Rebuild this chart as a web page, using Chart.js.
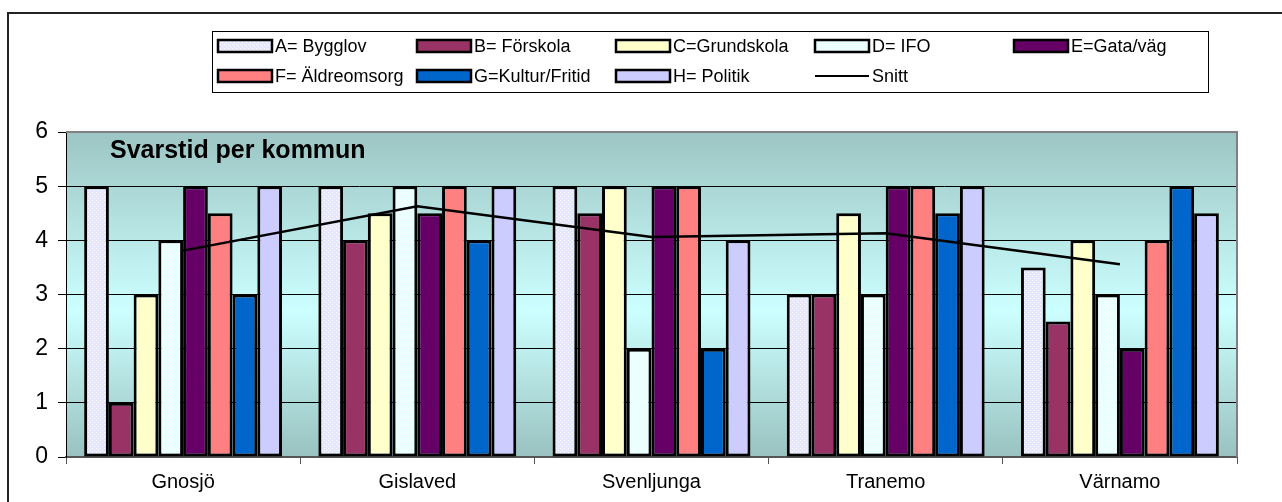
<!DOCTYPE html>
<html>
<head>
<meta charset="utf-8">
<script src="https://cdn.jsdelivr.net/npm/chart.js@4"></script>
<style>
  html, body { margin: 0; padding: 0; background: #fff; }
  #wrap { position: relative; width: 1282px; height: 502px; }
</style>
</head>
<body>
<div id="wrap"><canvas id="grafico" width="1282" height="502"></canvas></div>
<script>
// Kommuner och svarstider
const kommuner = ['Gnosjö', 'Gislaved', 'Svenljunga', 'Tranemo', 'Värnamo'];

const bygglov     = [5, 5, 5, 3, 3.5];
const forskola    = [1, 4, 4.5, 3, 2.5];
const grundskola  = [3, 4.5, 5, 4.5, 4];
const ifo         = [4, 5, 2, 3, 3];
const gataVag     = [5, 4.5, 5, 5, 2];
const aldreomsorg = [4.5, 5, 5, 5, 4];
const kultur      = [3, 4, 2, 4.5, 5];
const politik     = [5, 5, 4, 5, 4.5];
const snitt       = [3.81, 4.63, 4.06, 4.13, 3.56];

const yTicks = [0, 1, 2, 3, 4, 5, 6];

const FONT = "'Liberation Sans', Arial, sans-serif";

// Enkel prickig fyllning (som Excel-mönstret)
function monster(bas, prick) {
    const c = document.createElement('canvas');
    c.width = 4; c.height = 4;
    const g = c.getContext('2d');
    g.fillStyle = bas;
    g.fillRect(0, 0, 4, 4);
    g.fillStyle = prick;
    g.fillRect(0, 0, 1, 1);
    g.fillRect(2, 2, 1, 1);
    return g.createPattern(c, 'repeat');
}

function stapel(label, data, farg) {
    return {
        type: 'bar',
        label: label,
        data: data,
        backgroundColor: farg,
        borderColor: '#000',
        borderWidth: 3,
        borderSkipped: false,
        categoryPercentage: 0.845,
        barPercentage: 1,
        order: 2
    };
}

const datasets = [
    stapel('A= Bygglov', bygglov, monster('#E6E6FF', '#FFFFFF')),
    stapel('B= Förskola', forskola, '#993366'),
    stapel('C=Grundskola', grundskola, '#FFFFCC'),
    stapel('D= IFO', ifo, monster('#E6FFFF', '#FFFFFF')),
    stapel('E=Gata/väg', gataVag, '#660066'),
    stapel('F= Äldreomsorg', aldreomsorg, '#FF8080'),
    stapel('G=Kultur/Fritid', kultur, '#0066CC'),
    stapel('H= Politik', politik, '#CCCCFF'),
    {
        type: 'line',
        label: 'Snitt',
        data: snitt,
        borderColor: '#000',
        borderWidth: 2.5,
        pointRadius: 0,
        tension: 0,
        fill: false,
        order: 1
    }
];

// Bakgrund, ram och titel
const bakgrund = {
    id: 'bakgrund',
    beforeDraw(chart) {
        const { ctx, chartArea: a } = chart;
        ctx.save();
        const grad = ctx.createLinearGradient(0, a.top, 0, a.bottom);
        grad.addColorStop(0, '#9CC5C3');
        grad.addColorStop(0.55, '#CCFFFF');
        grad.addColorStop(1, '#99C2C0');
        ctx.fillStyle = grad;
        ctx.fillRect(a.left, a.top, a.right - a.left, a.bottom - a.top);

        // yttre ram
        ctx.strokeStyle = '#222';
        ctx.lineWidth = 2;
        ctx.beginPath();
        ctx.moveTo(1282, 13);
        ctx.lineTo(8, 13);
        ctx.lineTo(8, 502);
        ctx.stroke();
        ctx.restore();
    },
    afterDraw(chart) {
        const { ctx, chartArea: a } = chart;
        ctx.save();
        ctx.strokeStyle = '#808080';
        ctx.lineWidth = 2;
        ctx.beginPath();
        ctx.moveTo(a.left, a.top);
        ctx.lineTo(a.right, a.top);
        ctx.lineTo(a.right, a.bottom);
        ctx.stroke();

        ctx.fillStyle = '#000';
        ctx.font = 'bold 25px ' + FONT;
        ctx.textBaseline = 'alphabetic';
        ctx.fillText('Svarstid per kommun', a.left + 44, a.top + 26);
        ctx.restore();
    }
};

// Förklaring i rutnät (5 kolumner, 2 rader)
const rutLegend = {
    id: 'rutLegend',
    afterDraw(chart) {
        const ctx = chart.ctx;
        ctx.save();
        ctx.fillStyle = '#fff';
        ctx.fillRect(212, 31, 996, 61);
        ctx.strokeStyle = '#000';
        ctx.lineWidth = 1;
        ctx.strokeRect(212.5, 31.5, 996, 61);

        ctx.font = '18px ' + FONT;
        ctx.textBaseline = 'middle';
        chart.data.datasets.forEach((ds, i) => {
            const kol = i % 5;
            const rad = Math.floor(i / 5);
            const x = 218 + kol * 199;
            const y = 46 + rad * 30;
            if (ds.type === 'line') {
                ctx.strokeStyle = '#000';
                ctx.lineWidth = 2;
                ctx.beginPath();
                ctx.moveTo(x, y);
                ctx.lineTo(x + 54, y);
                ctx.stroke();
            } else {
                ctx.fillStyle = ds.backgroundColor;
                ctx.fillRect(x, y - 6, 54, 12);
                ctx.strokeStyle = '#000';
                ctx.lineWidth = 2.5;
                ctx.strokeRect(x, y - 6, 54, 12);
            }
            ctx.fillStyle = '#000';
            ctx.fillText(ds.label, x + 57, y + 1);
        });
        ctx.restore();
    }
};

new Chart(document.getElementById('grafico'), {
    type: 'bar',
    data: { labels: kommuner, datasets: datasets },
    options: {
        responsive: false,
        animation: false,
        layout: { padding: { top: 132, right: 45, left: 0, bottom: 0 } },
        plugins: {
            legend: { display: false },
            tooltip: { enabled: false }
        },
        scales: {
            x: {
                offset: true,
                grid: {
                    display: true,
                    offset: true,
                    drawOnChartArea: false,
                    drawTicks: true,
                    tickLength: 7,
                    color: '#555',
                    lineWidth: 1
                },
                border: { display: true, color: '#555', width: 2 },
                ticks: {
                    color: '#000',
                    font: { family: FONT, size: 20 },
                    padding: 6
                },
                afterFit(scale) { scale.height = 45; }
            },
            y: {
                min: 0,
                max: 6,
                afterBuildTicks(scale) {
                    scale.ticks = yTicks.map(v => ({ value: v }));
                },
                grid: {
                    color: '#000',
                    lineWidth: 1,
                    drawTicks: true,
                    tickLength: 8
                },
                border: { display: true, color: '#000', width: 1 },
                ticks: {
                    color: '#000',
                    font: { family: FONT, size: 23 },
                    padding: 10
                },
                afterFit(scale) { scale.width = 66; }
            }
        }
    },
    plugins: [bakgrund, rutLegend]
});
</script>
</body>
</html>
